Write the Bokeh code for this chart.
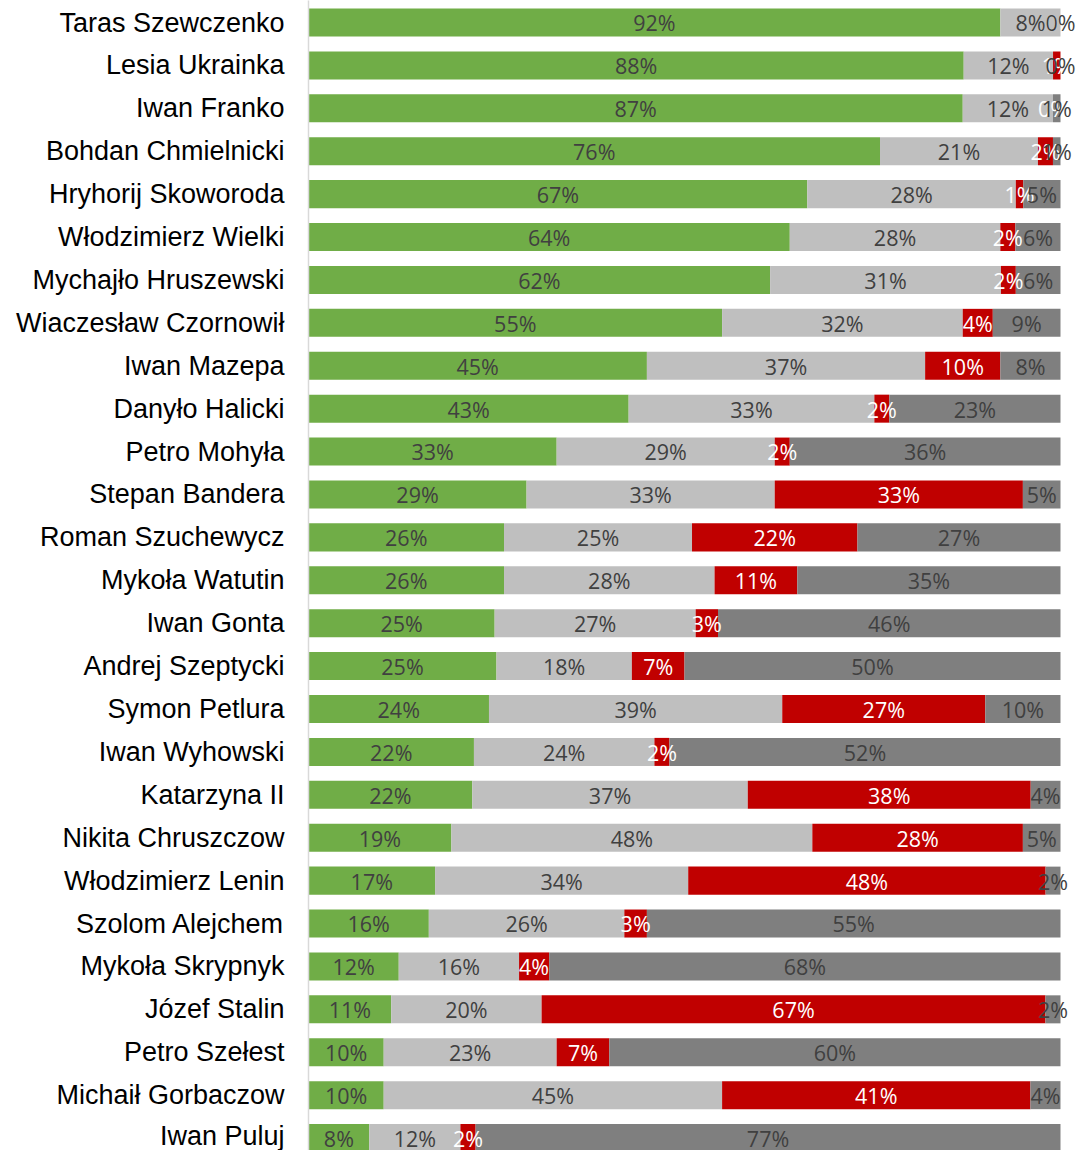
import numpy as np
from bokeh.plotting import figure
from bokeh.models import ColumnDataSource, Range1d, FixedTicker
from bokeh.core.properties import value
from bokeh.embed import file_html
from bokeh.resources import INLINE

names = ["Taras Szewczenko", "Lesia Ukrainka", "Iwan Franko", "Bohdan Chmielnicki",
         "Hryhorij Skoworoda", "Włodzimierz Wielki", "Mychajło Hruszewski",
         "Wiaczesław Czornowił", "Iwan Mazepa", "Danyło Halicki", "Petro Mohyła",
         "Stepan Bandera", "Roman Szuchewycz", "Mykoła Watutin", "Iwan Gonta",
         "Andrej Szeptycki", "Symon Petlura", "Iwan Wyhowski", "Katarzyna II",
         "Nikita Chruszczow", "Włodzimierz Lenin", "Szolom Alejchem", "Mykoła Skrypnyk",
         "Józef Stalin", "Petro Szełest", "Michaił Gorbaczow", "Iwan Puluj"]
positive = [92, 88, 87, 76, 67, 64, 62, 55, 45, 43, 33, 29, 26, 26, 25, 25, 24, 22, 22, 19, 17, 16, 12, 11, 10, 10, 8]
neutral = [8, 12, 12, 21, 28, 28, 31, 32, 37, 33, 29, 33, 25, 28, 27, 18, 39, 24, 37, 48, 34, 26, 16, 20, 23, 45, 12]
negative = [0, 1, 0, 2, 1, 2, 2, 4, 10, 2, 2, 33, 22, 11, 3, 7, 27, 2, 38, 28, 48, 3, 4, 67, 7, 41, 2]
unknown = [0, 0, 1, 1, 5, 6, 6, 9, 8, 23, 36, 5, 27, 35, 46, 50, 10, 52, 4, 5, 2, 55, 68, 2, 60, 4, 77]

series = [positive, neutral, negative, unknown]
colors = ["#70AD47", "#BFBFBF", "#C00000", "#7F7F7F"]
label_colors = ["#404040", "#404040", "#FFFFFF", "#404040"]

n = len(names)
ys = np.arange(n)
# rounded shares do not always add up to 100: scale each row to a full bar
totals = np.sum(np.array(series, dtype=float), axis=0)
scale = 100.0 / totals

p = figure(width=1083, height=1150, output_backend="svg", toolbar_location=None,
           x_range=Range1d(0, 103.06), y_range=Range1d(26.29, -0.513),
           min_border_left=308, min_border_right=0, min_border_top=0, min_border_bottom=0)
p.outline_line_color = None
p.xgrid.visible = False
p.ygrid.visible = False
p.xaxis.visible = False
p.background_fill_color = "white"

left = np.zeros(n)
label_data = []
for vals, col, lc in zip(series, colors, label_colors):
    v = np.array(vals, dtype=float) * scale
    right = left + v
    src = ColumnDataSource(dict(y=ys, left=left.copy(), right=right.copy()))
    p.hbar(y="y", left="left", right="right", height=0.653, source=src,
           fill_color=col, line_color=None)
    label_data.append((left + v / 2, [f"{int(x)}%" for x in vals], lc))
    left = right

for xs, txt, lc in label_data:
    src = ColumnDataSource(dict(x=xs, y=ys + 0.01, t=txt))
    p.text(x="x", y="y", text="t", source=src, text_align="center", text_baseline="middle",
           text_font=value("Open Sans"), text_font_size="21.5px", text_color=lc)

p.yaxis.ticker = FixedTicker(ticks=list(range(n)))
p.yaxis.major_label_overrides = {i: nm for i, nm in enumerate(names)}
p.yaxis.major_label_text_font = "Liberation Sans"
p.yaxis.major_label_text_font_size = "27px"
p.yaxis.major_label_text_color = "black"
p.yaxis.major_label_standoff = 24
p.yaxis.major_tick_out = 0
p.yaxis.major_tick_in = 0
p.yaxis.major_tick_line_color = None
p.yaxis.minor_tick_line_color = None
p.yaxis.axis_line_color = "#D9D9D9"
p.yaxis.axis_line_width = 1.5

open("out.html", "w").write(file_html(p, INLINE))
